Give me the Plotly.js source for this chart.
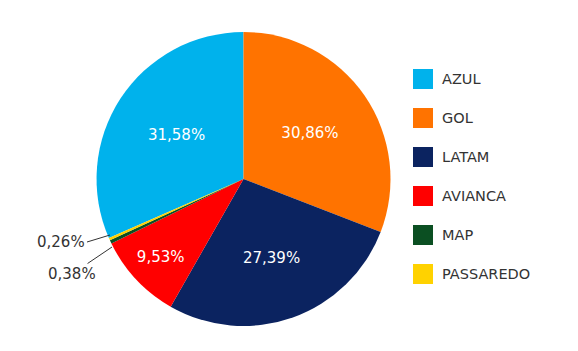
<!DOCTYPE html>
<html><head><meta charset="utf-8">
<script src="https://cdn.plot.ly/plotly-3.0.1.min.js"></script>
<style>html,body{margin:0;padding:0;background:#fff}</style>
</head><body><div id="chart" style="width:578px;height:351px"></div>
<script>
const labels = ["AZUL","GOL","LATAM","AVIANCA","MAP","PASSAREDO"];
const values = [31.58,30.86,27.39,9.53,0.38,0.26];
const valueText = ["31,58%","30,86%","27,39%","9,53%","0,38%","0,26%"];
const colors = ["#00b2ec","#ff7300","#0b2360","#ff0000","#0b4f22","#ffd200"];

const total = values.reduce((a,b)=>a+b,0);
const rotation = -values[0]/total*360;
const font = "'DejaVu Sans', sans-serif";

const trace = {
  type:"pie", labels:labels, values:values, sort:false, direction:"clockwise",
  rotation: rotation,
  marker:{colors:colors, line:{width:0}},
  text: valueText, textinfo:"text",
  textposition: values.map(v => v > 5 ? "inside" : "none"),
  insidetextfont:{color:"#ffffff", size:15, family:font},
  domain:{x:[0.167,0.6756], y:[0.0712,0.9088]},
  showlegend:false, hoverinfo:"label+text"
};

const shapes = [], annotations = [];
const legTop = 79, legStep = 39;
labels.forEach((l,i)=>{
  const yc = legTop + i*legStep;
  shapes.push({type:"rect", xref:"paper", yref:"paper",
    x0:413/578, x1:433/578, y0:1-(yc+10)/351, y1:1-(yc-10)/351,
    fillcolor:colors[i], line:{width:0}});
  annotations.push({xref:"paper", yref:"paper", x:440/578, y:1-yc/351,
    xanchor:"left", yanchor:"middle", text:l, showarrow:false,
    font:{family:font, size:14.5, color:"#333333"}});
});
// small slice labels
annotations.push({xref:"paper", yref:"paper", x:110/578, y:1-235/351, ax:-23, ay:7,
  text:valueText[5], showarrow:true, arrowhead:0, arrowwidth:1, arrowcolor:"#333",
  xanchor:"right", font:{family:font, size:15, color:"#333333"}, standoff:0});
annotations.push({xref:"paper", yref:"paper", x:112/578, y:1-247/351, ax:-40, ay:27,
  text:valueText[4], showarrow:true, arrowhead:0, arrowwidth:1, arrowcolor:"#333",
  font:{family:font, size:15, color:"#333333"}, standoff:0});

Plotly.newPlot("chart",[trace],{
  width:578, height:351, margin:{l:0,r:0,t:0,b:0},
  paper_bgcolor:"#fff", plot_bgcolor:"#fff",
  shapes:shapes, annotations:annotations, showlegend:false
},{displayModeBar:false, staticPlot:true});
</script></body></html>
